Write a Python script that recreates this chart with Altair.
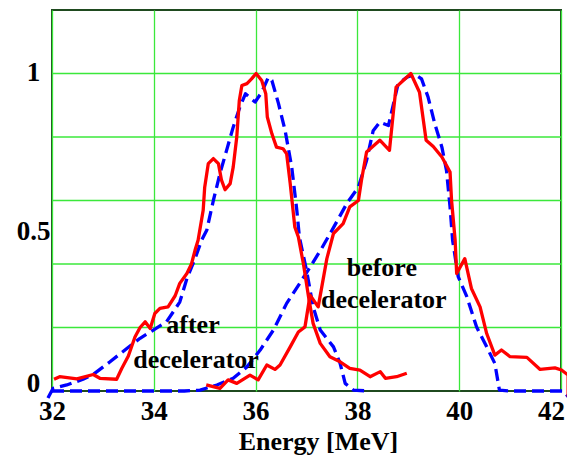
import altair as alt
import pandas as pd

# Red measured spectrum after decelerator
red_after_e = [32.04, 32.15, 32.49, 32.81, 32.94, 33.27, 33.37, 33.50, 33.63, 33.73, 33.83, 33.93, 34.02, 34.12,
               34.28, 34.42, 34.51, 34.65, 34.74, 34.81, 34.87, 34.97, 35.00, 35.07, 35.17, 35.27, 35.33, 35.40,
               35.50, 35.56, 35.63, 35.68, 35.73, 35.83, 35.92, 36.01, 36.12, 36.20, 36.23, 36.32, 36.41, 36.54,
               36.61, 36.68, 36.77, 36.84, 36.94, 37.04, 37.13, 37.27, 37.46, 37.66, 37.85, 38.05, 38.25, 38.45,
               38.55, 38.77, 38.97]
red_after_v = [0.037, 0.045, 0.038, 0.052, 0.040, 0.037, 0.071, 0.11, 0.17, 0.20, 0.218, 0.197, 0.244, 0.26,
               0.265, 0.30, 0.339, 0.37, 0.40, 0.443, 0.475, 0.569, 0.642, 0.716, 0.732, 0.716, 0.664, 0.634,
               0.653, 0.705, 0.80, 0.915, 0.962, 0.968, 0.983, 1.0, 0.978, 0.936, 0.863, 0.81, 0.768, 0.763,
               0.747, 0.653, 0.517, 0.485, 0.40, 0.297, 0.213, 0.15, 0.108, 0.092, 0.071, 0.066, 0.045, 0.061,
               0.04, 0.045, 0.056]

# Red measured spectrum before decelerator
red_before_e = [35.03, 35.30, 35.46, 35.63, 35.89, 36.05, 36.22, 36.38, 36.48, 36.68, 36.84, 36.97, 37.07, 37.23,
                37.40, 37.53, 37.72, 37.85, 38.02, 38.08, 38.18, 38.44, 38.63, 38.71, 38.76, 38.90, 39.05, 39.22,
                39.35, 39.49, 39.66, 39.82, 39.85, 39.92, 39.95, 40.11, 40.24, 40.41, 40.54, 40.70, 40.83, 41.00,
                41.33, 41.59, 41.88, 42.01, 42.14, 42.14]
red_before_v = [0.019, 0.008, 0.035, 0.024, 0.05, 0.035, 0.082, 0.068, 0.082, 0.139, 0.186, 0.202, 0.302, 0.265,
                0.417, 0.496, 0.527, 0.58, 0.60, 0.664, 0.753, 0.79, 0.758, 0.884, 0.957, 0.978, 1.0, 0.941,
                0.79, 0.77, 0.737, 0.69, 0.60, 0.475, 0.37, 0.417, 0.323, 0.265, 0.181, 0.113, 0.129, 0.108,
                0.106, 0.068, 0.073, 0.066, 0.05, -0.018]

# Blue simulated spectrum after decelerator
blue_after_e = [31.92, 32.02, 32.29, 32.61, 32.81, 33.14, 33.47, 33.73, 33.99, 34.25, 34.51, 34.65, 34.81, 34.94,
                35.04, 35.17, 35.30, 35.43, 35.56, 35.69, 35.80, 35.99, 36.12, 36.25, 36.32, 36.45, 36.58, 36.71,
                36.81, 36.86, 37.00, 37.13, 37.27, 37.53, 37.66, 37.76, 37.92, 38.20]
blue_after_v = [-0.022, 0.008, 0.019, 0.037, 0.052, 0.092, 0.134, 0.166, 0.192, 0.218, 0.28, 0.354, 0.417, 0.475,
                0.506, 0.60, 0.685, 0.758, 0.831, 0.894, 0.936, 0.91, 0.941, 0.988, 0.978, 0.905, 0.82, 0.705,
                0.569, 0.485, 0.38, 0.265, 0.192, 0.139, 0.087, 0.024, 0.003, 0.0]

# Blue simulated spectrum before decelerator
blue_before_e = [32.0, 34.60, 34.91, 35.24, 35.56, 35.83, 36.09, 36.35, 36.61, 36.87, 37.07, 37.30, 37.50, 37.79,
                 38.02, 38.18, 38.31, 38.44, 38.61, 38.71, 38.80, 38.97, 39.13, 39.26, 39.39, 39.52, 39.66, 39.75,
                 39.82, 39.87, 39.98, 40.15, 40.34, 40.54, 40.70, 40.79, 41.00, 42.05, 42.14]
blue_before_v = [0.0, 0.0, 0.003, 0.019, 0.04, 0.076, 0.129, 0.192, 0.276, 0.34, 0.39, 0.45, 0.506, 0.59,
                 0.642, 0.726, 0.82, 0.847, 0.836, 0.905, 0.968, 0.988, 0.997, 0.983, 0.925, 0.842, 0.768, 0.695,
                 0.58, 0.475, 0.36, 0.297, 0.202, 0.139, 0.087, 0.003, 0.0, 0.0, -0.018]

x_ticks = [32, 34, 36, 38, 40, 42]
y_labels = [0, 0.5, 1]
y_grid = [0.2, 0.4, 0.6, 0.8, 1.0]

ann_text = ["after", "decelerator", "before", "decelerator"]
ann_e = [34.77, 34.83, 38.48, 38.52]
ann_v = [0.208, 0.097, 0.387, 0.286]

SERIF = "Liberation Serif"


def frame(e, v):
    return pd.DataFrame({"e": e, "v": v, "i": list(range(len(e)))})


xs = alt.Scale(domain=[32, 42], nice=False)
ys = alt.Scale(domain=[0, 1.2], nice=False)

x_axis = alt.Axis(values=x_ticks, grid=True, gridColor="#3be83b", gridWidth=1.3, ticks=False, domain=False,
                  labelFont=SERIF, labelFontWeight="bold", labelFontSize=27, labelColor="black",
                  labelPadding=7, labelFlush=False,
                  labelOffset={"condition": {"test": "datum.value == 42", "value": -10}, "value": 0},
                  title="Energy [MeV]", titleFont=SERIF,
                  titleFontWeight="bold", titleFontSize=26, titleColor="black", titlePadding=4, titleX=266)
y_axis = alt.Axis(values=y_labels, grid=False, ticks=False, domain=False, format="~g",
                  labelFont=SERIF, labelFontWeight="bold", labelFontSize=27, labelColor="black",
                  labelAlign="center", labelBaseline="middle", labelPadding=19, labelFlush=False,
                  labelOffset={"condition": {"test": "datum.value == 0", "value": -8}, "value": -1},
                  title=None)

grid = alt.Chart(pd.DataFrame({"g": y_grid})).mark_rule(color="#3be83b", strokeWidth=1.3).encode(
    y=alt.Y("g:Q", scale=ys, axis=y_axis)
)

base_x = alt.X("e:Q", scale=xs, axis=x_axis)


def line(e, v, color, dash=None):
    kw = dict(color=color, strokeWidth=3.3, clip=False, strokeJoin="round")
    if dash:
        kw["strokeDash"] = dash
    return alt.Chart(frame(e, v)).mark_line(**kw).encode(
        x=base_x, y=alt.Y("v:Q", scale=ys, axis=y_axis), order="i:Q"
    )


ann = alt.Chart(pd.DataFrame({"t": ann_text, "e": ann_e, "v": ann_v})).mark_text(
    font=SERIF, fontWeight="bold", fontSize=26, color="black", align="center", baseline="middle"
).encode(x=alt.X("e:Q", scale=xs), y=alt.Y("v:Q", scale=ys), text="t:N")

chart = alt.layer(
    grid,
    line(blue_after_e, blue_after_v, "#0000ff", [12, 6]),
    line(blue_before_e, blue_before_v, "#0000ff", [12, 6]),
    line(red_after_e, red_after_v, "#ff0000"),
    line(red_before_e, red_before_v, "#ff0000"),
    ann,
).properties(
    width=509, height=381, autosize=alt.AutoSizeParams(type="none"),
    padding={"left": 44, "top": 2, "right": 6, "bottom": 66}, background="white"
).configure_view(stroke="#1f4a1f", strokeWidth=2)

chart.save("out.html", embed_options={"renderer": "svg", "actions": False})
